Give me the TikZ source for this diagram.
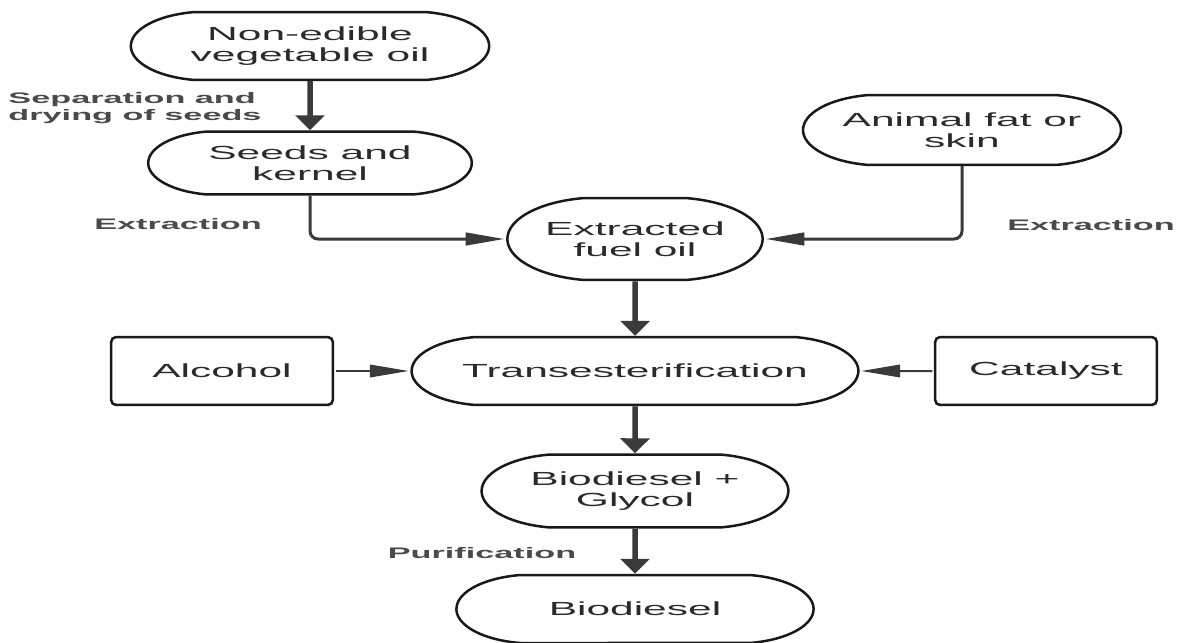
\documentclass[tikz,border=0pt]{standalone}
\usepackage{fontspec}
\setmainfont{Liberation Sans}
\usetikzlibrary{arrows.meta,shapes.misc}
\definecolor{inkline}{HTML}{3A3A3A}
\definecolor{inktext}{HTML}{2A2A2A}
\begin{document}
\begin{tikzpicture}[x=0.02cm,y=-0.02cm,
  every node/.style={xscale=2.24,text=inktext,font=\fontsize{10.8}{12}\selectfont,align=center},
  oval/.style={draw=black!90,line width=0.05cm,rounded rectangle,rounded rectangle arc length=160,inner xsep=-0.6cm,inner ysep=0pt},
  inbox/.style={draw=black!90,line width=0.05cm,rounded corners=0.1cm,inner sep=0pt,minimum width=1.98cm,minimum height=1.36cm},
  note/.style={font=\bfseries\fontsize{8.7}{9.4}\selectfont,text=inktext!85},
  down/.style={-{Triangle[width=0.58cm,length=0.3cm]},line width=0.11cm,draw=inkline},
  side/.style={-{Triangle[width=0.25cm,length=0.78cm]},line width=0.04cm,draw=inkline}]
\useasboundingbox (0,0) rectangle (1178,643);
% main column
\node[oval,minimum width=2.0cm,minimum height=1.36cm] (veg) at (310,46) {Non-edible\\vegetable oil};
\node[oval,minimum width=1.69cm,minimum height=1.26cm] (seeds) at (310,163) {Seeds and\\kernel};
\node[oval,minimum width=1.64cm,minimum height=1.4cm] (animal) at (962,130) {Animal fat or\\skin};
\node[oval,minimum width=1.08cm,minimum height=1.64cm] (fuel) at (635,239) {Extracted\\fuel oil};
\node[oval,minimum width=2.79cm,minimum height=1.36cm] (trans) at (635,371) {Transesterification};
\node[inbox] (alcohol) at (222,371) {Alcohol};
\node[inbox] (catalyst) at (1046,371) {Catalyst};
\node[oval,minimum width=1.54cm,minimum height=1.46cm] (glycol) at (635,491) {Biodiesel +\\Glycol};
\node[oval,minimum width=1.99cm,minimum height=1.36cm] (bio) at (635,609) {Biodiesel};
% step labels
\node[note,align=left] (sep) at (135,108) {Separation and\\drying of seeds};
\node[note] (extl) at (178,224) {Extraction};
\node[note] (extr) at (1091,225) {Extraction};
\node[note] (puri) at (482,553) {Purification};
% connectors
\draw[down] (veg) -- (seeds);
\draw[side,line width=0.06cm,rounded corners=0.16cm] (seeds.south) |- (fuel.west);
\draw[side,line width=0.06cm,rounded corners=0.16cm] (animal.south) |- (fuel.east);
\draw[down] (fuel) -- (trans);
\draw[side] (alcohol) -- (trans);
\draw[side] (catalyst) -- (trans);
\draw[down] (trans) -- (glycol);
\draw[down] (glycol) -- (bio);
\end{tikzpicture}
\end{document}
